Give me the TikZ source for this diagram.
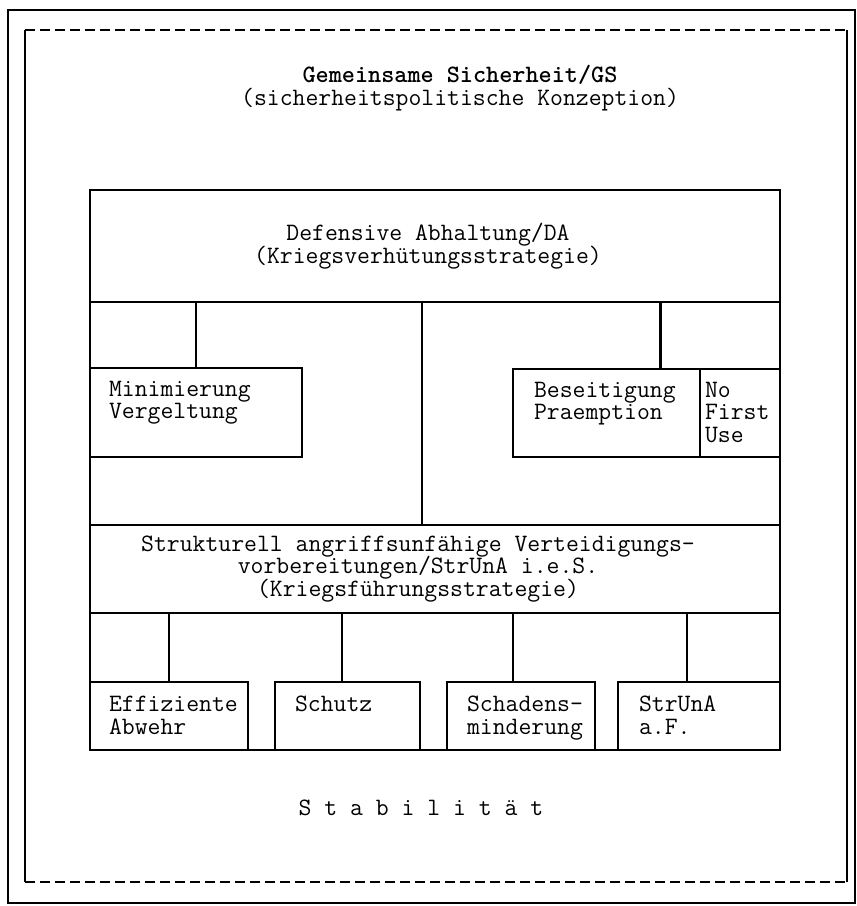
\documentclass[tikz,border=0pt]{standalone}
\usepackage{tikz}
\usetikzlibrary{positioning,calc}

\newcommand{\twfont}{\ttfamily\fontsize{12.5}{11.25}\selectfont}

\begin{document}
\begin{tikzpicture}[
    x=0.5pt, y=-0.5pt,
    box/.style={draw, line width=1.3pt, inner sep=0pt},
    boxtext/.style={anchor=north west, inner sep=0pt, align=left, font=\twfont,
        execute at begin node={\lineskiplimit=-20pt\lineskip=0pt}},
    head/.style={inner sep=0pt, align=center, font=\twfont,
        execute at begin node={\lineskiplimit=-20pt\lineskip=0pt}},
    conn/.style={line width=1.3pt}
]
\useasboundingbox (0,0) rectangle (857,906);

% outer frame and dashed frame
\draw[line width=1.1pt] (8,10) rectangle (855,903);
\coordinate (ftl) at (25,30);
\coordinate (ftr) at (847,30);
\coordinate (fbr) at (847,882);
\coordinate (fbl) at (25,882);
\draw[line width=0.9pt, dash pattern=on 5pt off 2.5pt] (ftl) -- (ftr) (fbl) -- (fbr);
\draw[line width=0.9pt] (ftl) -- (fbl) (ftr) -- (fbr);

\node[head] (gs) at (460,88) {{\bfseries Gemeinsame Sicherheit/GS}\\(sicherheitspolitische Konzeption)};

% main block
\node[box, minimum width=345pt, minimum height=280pt] (main) at (435,470) {};
\node[box, minimum width=345pt, minimum height=56pt] (da) at (435,246) {};
\node[head] (daT) at ([xshift=-3.5pt]da.center) {Defensive Abhaltung/DA\\(Kriegsverhütungsstrategie)};

\node[box, minimum width=106pt, minimum height=44.5pt] (minim) at (196,412.5) {};
\node[box, minimum width=93.5pt, minimum height=44pt] (beseit) at (606.5,413) {};
\node[box, minimum width=40pt, minimum height=44pt] (nfu) at (740,413) {};
\node[boxtext] (minimT) at ([shift={(10pt,-7pt)}]minim.north west) {Minimierung\\Vergeltung};
\node[boxtext] (beseitT) at ([shift={(11pt,-7pt)}]beseit.north west) {Beseitigung\\Praemption};
\node[boxtext] (nfuT) at ([shift={(3pt,-7pt)}]nfu.north west) {No\\First\\Use};

\node[box, minimum width=345pt, minimum height=44pt] (strua) at (435,569) {};
\node[head] (struaT) at ([xshift=-8.5pt]strua.center) {Strukturell angriffsunfähige Verteidigungs-\\vorbereitungen/StrUnA i.e.S.\\(Kriegsführungsstrategie)};

\node[box, minimum width=79pt, minimum height=34pt] (effiz) at (169,716) {};
\node[box, minimum width=72.5pt, minimum height=34pt] (schutz) at (347.5,716) {};
\node[box, minimum width=74pt, minimum height=34pt] (schaden) at (521,716) {};
\node[box, minimum width=81pt, minimum height=34pt] (strunaaf) at (699,716) {};
\node[boxtext] (effizT) at ([shift={(10pt,-7.5pt)}]effiz.north west) {Effiziente\\Abwehr};
\node[boxtext] (schutzT) at ([shift={(10.5pt,-7.5pt)}]schutz.north west) {Schutz};
\node[boxtext] (schadenT) at ([shift={(10.5pt,-7.5pt)}]schaden.north west) {Schadens-\\minderung};
\node[boxtext] (strunaafT) at ([shift={(11pt,-7.5pt)}]strunaaf.north west) {StrUnA\\a.F.};

% connectors
\draw[conn] (minim.north) -- (minim.north |- da.south);
\coordinate (beseitP) at ([xshift=27pt]beseit.north);
\draw[conn] (beseitP) -- (beseitP |- da.south);
\coordinate (midP) at ([xshift=-6.5pt]da.south);
\draw[conn] (midP) -- (midP |- strua.north);
\draw[conn] (effiz.north) -- (effiz.north |- strua.south);
\coordinate (schutzP) at ([xshift=-2.75pt]schutz.north);
\draw[conn] (schutzP) -- (schutzP |- strua.south);
\coordinate (schadenP) at ([xshift=-4pt]schaden.north);
\draw[conn] (schadenP) -- (schadenP |- strua.south);
\coordinate (strunaafP) at ([xshift=-6pt]strunaaf.north);
\draw[conn] (strunaafP) -- (strunaafP |- strua.south);

\node[head] (stab) at (421,808) {S t a b i l i t ä t};
\end{tikzpicture}
\end{document}
